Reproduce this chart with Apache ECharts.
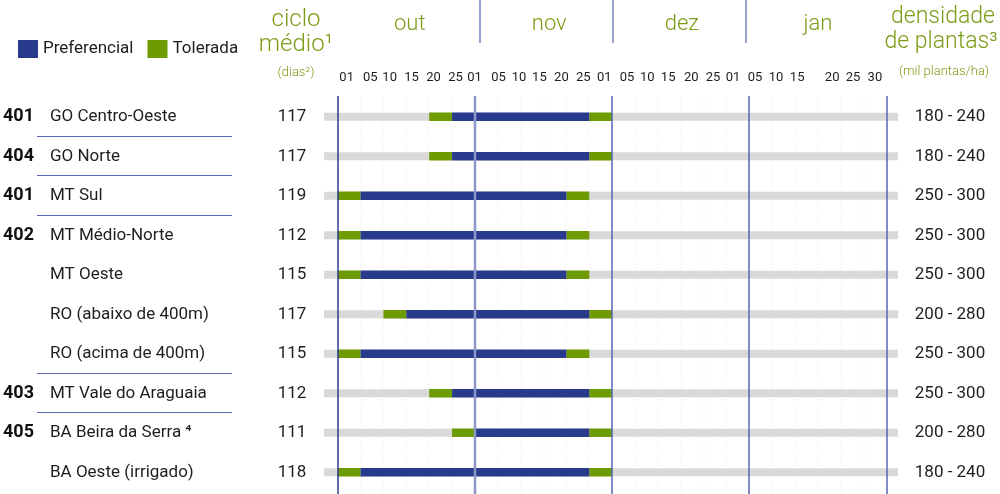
<!DOCTYPE html>
<html>
<head>
<meta charset="utf-8">
<script src="https://cdn.jsdelivr.net/npm/echarts@6/dist/echarts.min.js"></script>
<style>
html,body{margin:0;padding:0;background:#fff;}
#chart{width:1000px;height:494px;}
</style>
</head>
<body>
<div id="chart"></div>
<script>
// ---------- DATA ----------
const regioes = ['GO Centro-Oeste','GO Norte','MT Sul','MT Médio-Norte','MT Oeste','RO (abaixo de 400m)','RO (acima de 400m)','MT Vale do Araguaia','BA Beira da Serra \u2074','BA Oeste (irrigado)'];
const codigos = ['401','404','401','402','','','','403','405',''];
const cicloMedio = [117,117,119,112,115,117,115,112,111,118];
const densidade = ['180 - 240','180 - 240','250 - 300','250 - 300','250 - 300','200 - 280','250 - 300','250 - 300','200 - 280','180 - 240'];
// dates as day/month
const toleradaInicio    = ['20/10','20/10','01/10','01/10','01/10','10/10','01/10','20/10','25/10','01/10'];
const preferencialInicio= ['25/10','25/10','05/10','05/10','05/10','15/10','05/10','25/10','01/11','05/10'];
const preferencialFim   = ['25/11','25/11','20/11','20/11','20/11','25/11','20/11','25/11','25/11','25/11'];
const toleradaFim       = ['01/12','01/12','25/11','25/11','25/11','01/12','25/11','01/12','01/12','01/12'];
const meses = ['out','nov','dez','jan'];
const mesesNum = [10,11,12,1];
const diasPeriodo = [1,5,10,15,20,25];
const tickLabels = ['01','05','10','15','20','25','01','05','10','15','20','25','01','05','10','15','20','25','01','05','10','15','20','25','30'];
// label positions on the period axis (each month = 6 periods)
const tickPos = [0.39,1.42,2.27,3.23,4.19,5.15,5.98,7.03,7.93,8.82,9.78,10.74,11.66,12.65,13.54,14.45,15.46,16.41,17.29,18.25,19.17,20.09,21.62,22.53,23.49];
const mesPos = [3.15,9.25,15.05,21.0];

// ---------- HELPERS ----------
function toU(s){
  const [d,m] = s.split('/').map(Number);
  return mesesNum.indexOf(m)*6 + diasPeriodo.indexOf(d);
}
const XMIN = -0.6, XMAX = 24.5;
const BLUE = '#283a8b', GREEN = '#6e9a02', GRAY = '#d9d9d9', HGREEN = '#7a9c16', TXT = '#1e1e1e';
const FONT = 'Roboto,sans-serif';

const grayData = regioes.map((r,i)=>[i, XMIN, XMAX]);
const tolData = [];
regioes.forEach((r,i)=>{
  tolData.push([i, toU(toleradaInicio[i]), toU(preferencialInicio[i])]);
  tolData.push([i, toU(preferencialFim[i]), toU(toleradaFim[i])]);
});
const prefData = regioes.map((r,i)=>[i, toU(preferencialInicio[i]), toU(preferencialFim[i])]);

function barRender(color, h){
  return function(params, api){
    const row = api.value(0);
    const p0 = api.coord([api.value(1), row]);
    const p1 = api.coord([api.value(2), row]);
    return {type:'rect', shape:{x:p0[0], y:p0[1]-h/2, width:p1[0]-p0[0], height:h}, style:{fill:color}};
  };
}

// vertical lines at every period boundary
const gridU = [], monthU = [];
for (let u = 0; u <= 24; u++) { if (u % 6 === 0) monthU.push([u]); else gridU.push([u]); }
function vlineRender(params, api){
  const u = api.value(0);
  const cs = params.coordSys;
  const x = Math.round(api.coord([u, 0])[0]);
  let st;
  if (params.seriesName === 'grade') st = {stroke:'#e9e9e9', lineWidth:1, lineDash:[1,2]};
  else if (u === 0) st = {stroke:'#2b3b91', lineWidth:1.5};
  else if (u === 6) st = {stroke:'#8d96c9', lineWidth:2.5};
  else st = {stroke:'#5866b0', lineWidth:1.5};
  return {type:'line', shape:{x1:x, y1:cs.y-1, x2:x, y2:cs.y+cs.height+3}, style:st};
}

function findIdx(arr, v){ for (let i=0;i<arr.length;i++) if (Math.abs(arr[i]-v)<1e-6) return i; return -1; }

const chart = echarts.init(document.getElementById('chart'));
const catAxisBase = {type:'category', data:regioes, inverse:true, gridIndex:0,
  axisLine:{show:false}, axisTick:{show:false}, splitLine:{show:false}};

const option = {
  animation:false,
  backgroundColor:'#fff',
  grid:{left:323, right:102, top:97, bottom:2, containLabel:false},
  legend:{
    data:['Preferencial','Tolerada'], left:13, top:35, icon:'rect', itemWidth:20, itemHeight:18, itemGap:14,
    textStyle:{fontSize:17, color:TXT, fontFamily:FONT}, selectedMode:false
  },
  xAxis:[
    {type:'value', min:XMIN, max:XMAX, position:'top', gridIndex:0,
      axisLine:{show:false}, axisTick:{show:false}, splitLine:{show:false},
      axisLabel:{customValues:tickPos, margin:13, fontSize:13, color:TXT, fontFamily:FONT,
        formatter:(v)=>{const i=findIdx(tickPos,v); return i>=0?tickLabels[i]:'';}}},
    {type:'value', min:XMIN, max:XMAX, position:'top', gridIndex:0,
      axisLine:{show:false}, axisTick:{show:false}, splitLine:{show:false},
      axisLabel:{customValues:mesPos, margin:62, fontSize:22, color:HGREEN, fontFamily:'Roboto', fontWeight:300,
        formatter:(v)=>{const i=findIdx(mesPos,v); return i>=0?meses[i]:'';}}}
  ],
  yAxis:[
    Object.assign({}, catAxisBase, {position:'left', offset:274,
      axisLabel:{align:'left', margin:0, fontSize:17, color:TXT, fontFamily:FONT}}),
    Object.assign({}, catAxisBase, {position:'left', offset:321,
      axisLabel:{align:'left', margin:0, fontSize:18, fontWeight:'bold', color:'#111', fontFamily:FONT,
        formatter:(v,i)=>codigos[regioes.indexOf(v)]}}),
    Object.assign({}, catAxisBase, {position:'left', offset:32,
      axisLabel:{align:'center', margin:0, fontSize:17, color:TXT, fontFamily:FONT,
        formatter:(v)=>String(cicloMedio[regioes.indexOf(v)])}}),
    Object.assign({}, catAxisBase, {position:'right', offset:52,
      axisLabel:{align:'center', margin:0, fontSize:17, color:TXT, fontFamily:FONT,
        formatter:(v)=>densidade[regioes.indexOf(v)]}})
  ],
  series:[
    {type:'custom', name:'grade', renderItem:vlineRender, data:gridU, encode:{x:0}, clip:false, silent:true, z:0},
    {type:'custom', name:'fundo', renderItem:barRender(GRAY,8), data:grayData, encode:{x:[1,2], y:0}, clip:false, silent:true, z:1},
    {type:'custom', name:'Tolerada', renderItem:barRender(GREEN,8.5), data:tolData, encode:{x:[1,2], y:0}, itemStyle:{color:GREEN}, z:2},
    {type:'custom', name:'Preferencial', renderItem:barRender(BLUE,8.5), data:prefData, encode:{x:[1,2], y:0}, itemStyle:{color:BLUE}, z:3},
    {type:'custom', name:'meses', renderItem:vlineRender, data:monthU, encode:{x:0}, clip:false, silent:true, z:4}
  ],
  graphic:[
    {type:'text', x:296, y:20, style:{text:'ciclo', fill:HGREEN, font:'300 24px Roboto', align:'center', verticalAlign:'middle'}},
    {type:'text', x:296, y:45, style:{text:'médio\u00b9', fill:HGREEN, font:'300 24px Roboto', align:'center', verticalAlign:'middle'}},
    {type:'text', x:296, y:73, style:{text:'(dias\u00b2)', fill:HGREEN, font:'300 13px Roboto', align:'center', verticalAlign:'middle'}},
    {type:'text', x:943, y:17, style:{text:'densidade', fill:HGREEN, font:'300 23px Roboto', align:'center', verticalAlign:'middle'}},
    {type:'text', x:941, y:42, style:{text:'de plantas\u00b3', fill:HGREEN, font:'300 23px Roboto', align:'center', verticalAlign:'middle'}},
    {type:'text', x:944, y:72, style:{text:'(mil plantas/ha)', fill:HGREEN, font:'300 13px Roboto', align:'center', verticalAlign:'middle'}},
    {type:'line', shape:{x1:480,y1:0,x2:480,y2:43}, style:{stroke:'#5866b0', lineWidth:1.2}},
    {type:'line', shape:{x1:613,y1:0,x2:613,y2:43}, style:{stroke:'#5866b0', lineWidth:1.2}},
    {type:'line', shape:{x1:746,y1:0,x2:746,y2:43}, style:{stroke:'#5866b0', lineWidth:1.2}}
  ]
};
chart.setOption(option);

// group separators under the left labels, derived from the codes
const seps = [];
for (let i = 0; i < regioes.length-1; i++) {
  if (codigos[i+1] !== '') {
    const y0 = chart.convertToPixel({yAxisIndex:0}, regioes[i]);
    const y1 = chart.convertToPixel({yAxisIndex:0}, regioes[i+1]);
    const y = Math.round((y0+y1)/2) - 0.5;
    seps.push({type:'line', shape:{x1:37,y1:y,x2:232,y2:y}, style:{stroke:'#5866b0', lineWidth:1.2}});
  }
}
chart.setOption({graphic: option.graphic.concat(seps)});
</script>
</body>
</html>
